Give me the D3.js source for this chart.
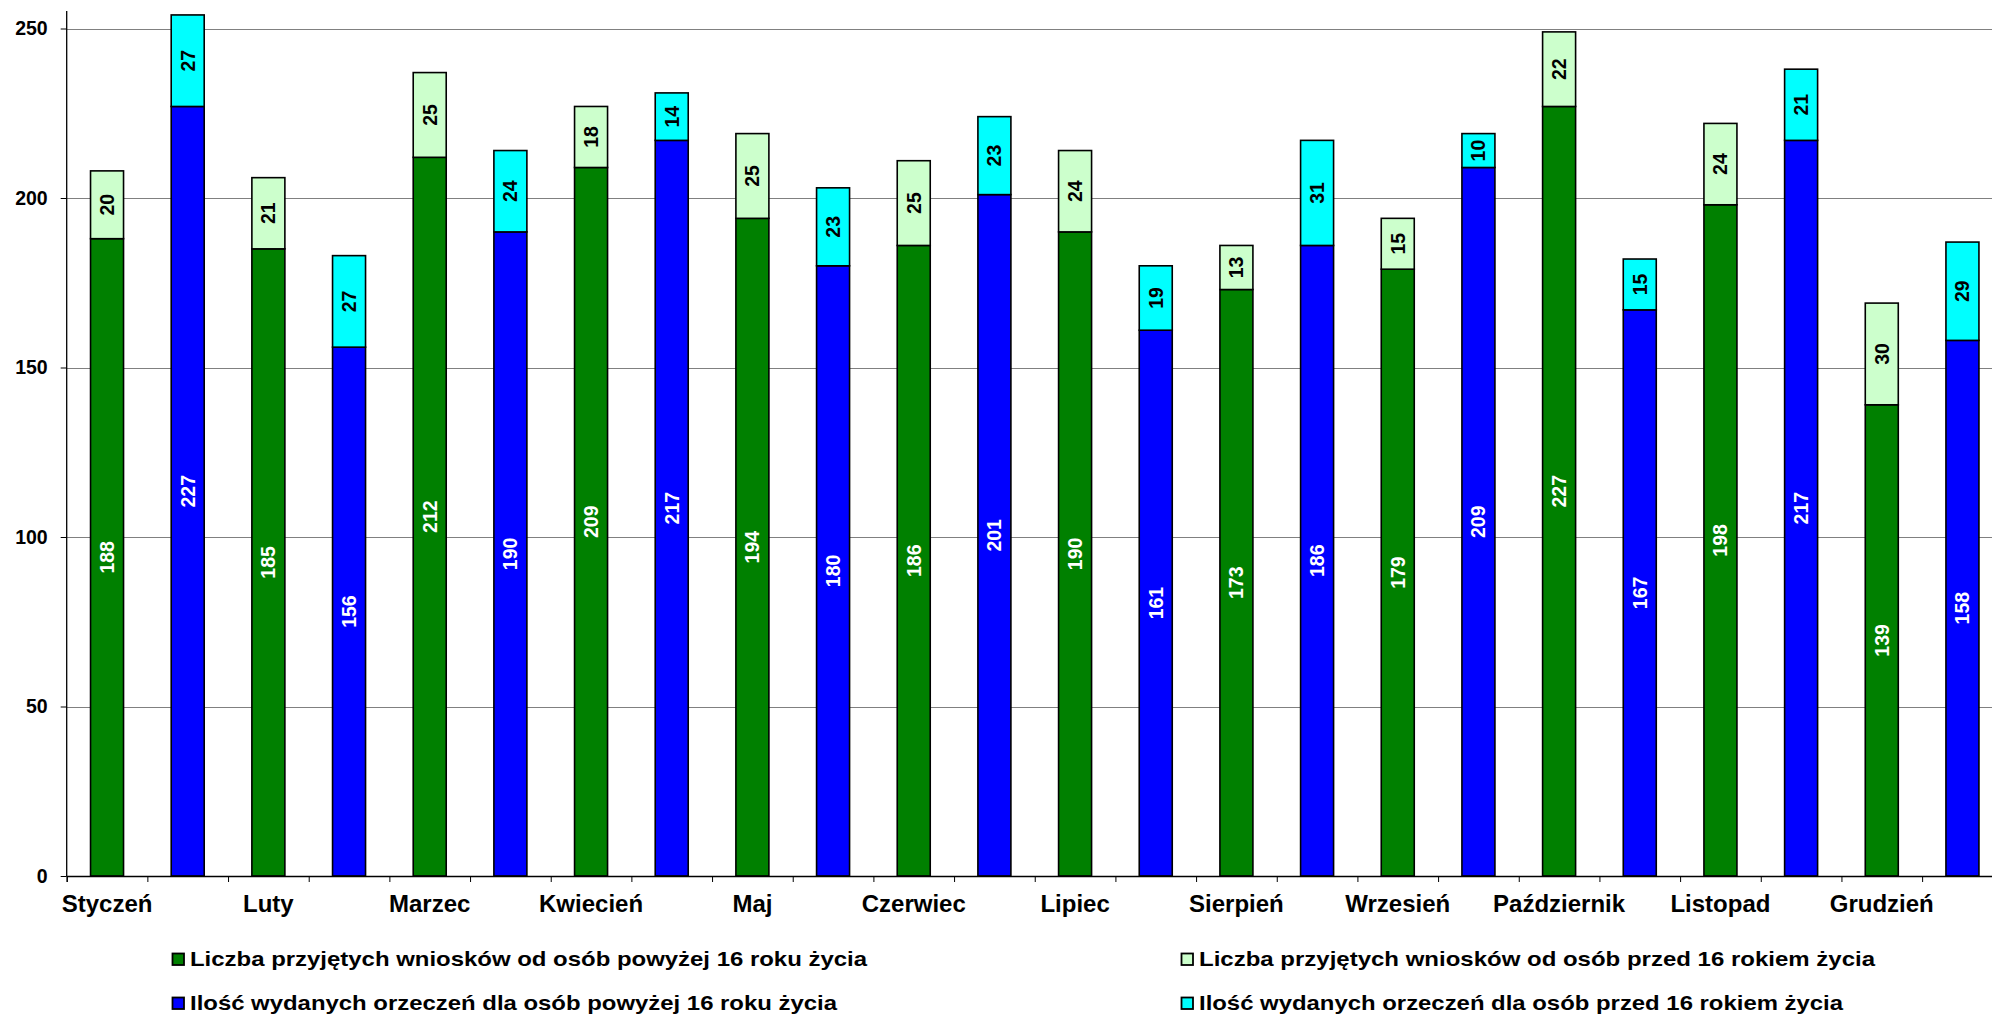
<!DOCTYPE html>
<html>
<head>
<meta charset="utf-8">
<script src="https://cdn.jsdelivr.net/npm/d3@7"></script>
<style>
  html, body { margin: 0; padding: 0; background: #fff; }
  svg { display: block; font-family: "Liberation Sans", Arial, sans-serif; font-weight: bold; }
</style>
</head>
<body>
<svg id="chart" width="1992" height="1015"></svg>
<script>
const months = ["Styczeń","Luty","Marzec","Kwiecień","Maj","Czerwiec","Lipiec","Sierpień","Wrzesień","Październik","Listopad","Grudzień"];
const wnioskiPowyzej = [188,185,212,209,194,186,190,173,179,227,198,139];
const wnioskiPrzed   = [20,21,25,18,25,25,24,13,15,22,24,30];
const orzeczeniaPowyzej = [227,156,190,217,180,201,161,186,209,167,217,158];
const orzeczeniaPrzed   = [27,27,24,14,23,23,19,31,10,15,21,29];
const yTicks = [0,50,100,150,200,250];
const legendLabels = [
  "Liczba przyjętych wniosków od osób powyżej 16 roku życia",
  "Liczba przyjętych wniosków od osób przed 16 rokiem życia",
  "Ilość wydanych orzeczeń dla osób powyżej 16 roku życia",
  "Ilość wydanych orzeczeń dla osób przed 16 rokiem życia"
];
const colors = {dGreen:"#008000", lGreen:"#CCFFCC", blue:"#0000FF", cyan:"#00FFFF"};

const svg = d3.select("#chart");
const x0 = 66.7, slotW = 80.67, nSlots = 24;
const plotTop = 11;

// slots: each month has two stacked columns
const slots = [];
months.forEach((m, i) => {
  slots.push({key: m + "|a", label: m, bottom: wnioskiPowyzej[i], top: wnioskiPrzed[i], cB: colors.dGreen, cT: colors.lGreen});
  slots.push({key: m + "|b", label: "", bottom: orzeczeniaPowyzej[i], top: orzeczeniaPrzed[i], cB: colors.blue, cT: colors.cyan});
});

const p = 1 - 33 / slotW;
const x = d3.scaleBand().domain(slots.map(d => d.key))
  .range([x0, x0 + nSlots * slotW]).paddingInner(p).paddingOuter(p / 2);
const xb = d3.scaleLinear().domain([0, nSlots]).range([x0, x0 + nSlots * slotW]);
const y = d3.scaleLinear().domain([0, 250]).range([876, 876 - 847.5]);

// gridlines
svg.append("g").selectAll("line").data(yTicks.filter(t => t > 0)).join("line")
  .attr("x1", x0).attr("x2", 2010)
  .attr("y1", d => Math.round(y(d)) + 0.5).attr("y2", d => Math.round(y(d)) + 0.5)
  .attr("stroke", "#808080").attr("stroke-width", 1);

// y axis
const yAxis = svg.append("g").attr("transform", `translate(${x0},0)`)
  .call(d3.axisLeft(y).tickValues(yTicks).tickSize(6).tickPadding(13));
yAxis.select(".domain").remove();
yAxis.selectAll(".tick line").attr("stroke", "#000");
yAxis.selectAll("text").attr("font-size", "19.5px").attr("font-weight", "bold")
  .attr("font-family", "Liberation Sans, Arial, sans-serif").attr("fill", "#000");
svg.append("line").attr("x1", x0).attr("x2", x0).attr("y1", plotTop).attr("y2", y(0))
  .attr("stroke", "#000").attr("stroke-width", 1.3);

// bars
const g = svg.append("g");
slots.forEach(d => {
  const segs = [
    {v0: 0, v1: d.bottom, val: d.bottom, c: d.cB, tc: "#fff"},
    {v0: d.bottom, v1: d.bottom + d.top, val: d.top, c: d.cT, tc: "#000"}
  ];
  segs.forEach(s => {
    g.append("rect")
      .attr("x", x(d.key)).attr("width", x.bandwidth())
      .attr("y", y(s.v1)).attr("height", y(s.v0) - y(s.v1))
      .attr("fill", s.c).attr("stroke", "#000").attr("stroke-width", 1.6);
  });
  segs.forEach(s => {
    const cx = x(d.key) + x.bandwidth() / 2;
    const cy = (y(s.v0) + y(s.v1)) / 2;
    g.append("text")
      .attr("transform", `translate(${cx},${cy}) rotate(-90)`)
      .attr("text-anchor", "middle").attr("dy", "0.36em")
      .attr("font-size", "19.5px").attr("fill", s.tc)
      .text(s.val);
  });
});

// x axis (labels)
const xAxis = svg.append("g").attr("transform", `translate(0,${y(0)})`)
  .call(d3.axisBottom(x).tickSize(0).tickPadding(19).tickFormat(k => k.endsWith("|a") ? k.split("|")[0] : ""));
xAxis.select(".domain").remove();
xAxis.selectAll("text").attr("font-size", "24px").attr("font-weight", "bold")
  .attr("font-family", "Liberation Sans, Arial, sans-serif").attr("fill", "#000");

// x axis boundary ticks
const xTickAxis = svg.append("g").attr("transform", `translate(0,${y(0)})`)
  .call(d3.axisBottom(xb).ticks(nSlots).tickValues(d3.range(0, nSlots + 1)).tickSize(6).tickFormat(""));
xTickAxis.select(".domain").attr("stroke", "#000").attr("stroke-width", 1.3);

// legend
const legPos = [[172, 966], [1181, 966], [172, 1010], [1181, 1010]];
const legColors = [colors.dGreen, colors.lGreen, colors.blue, colors.cyan];
const legWidths = [677, 676, 647, 644];
legendLabels.forEach((t, i) => {
  const [lx, ly] = legPos[i];
  svg.append("rect").attr("x", lx + 0.5).attr("y", ly - 12.5).attr("width", 11.5).attr("height", 11.5)
    .attr("fill", legColors[i]).attr("stroke", "#000").attr("stroke-width", 1.8);
  svg.append("text").attr("x", lx + 18).attr("y", ly)
    .attr("font-size", "20.5px").attr("fill", "#000")
    .attr("textLength", legWidths[i]).attr("lengthAdjust", "spacingAndGlyphs")
    .text(t);
});
</script>
</body>
</html>
